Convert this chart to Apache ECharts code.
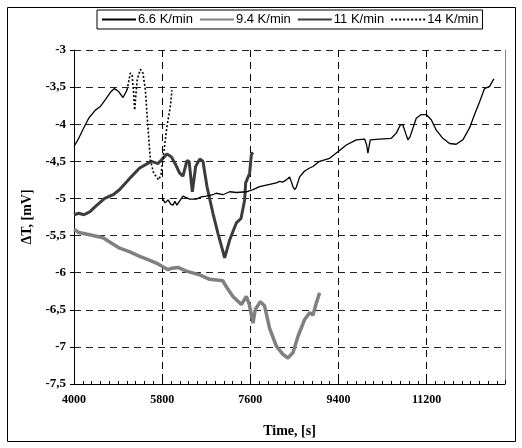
<!DOCTYPE html>
<html><head><meta charset="utf-8">
<script src="https://cdn.jsdelivr.net/npm/echarts@6/dist/echarts.min.js"></script>
<style>html,body{margin:0;padding:0;background:#fff}#c{width:522px;height:448px}</style>
</head><body><div id="c"></div>
<script>
// Series names
const seriesNames = ['6.6 K/min', '9.4 K/min', '11 K/min', '14 K/min'];
// Axis ticks
const yTicks = [-3, -3.5, -4, -4.5, -5, -5.5, -6, -6.5, -7, -7.5];
const xTicks = [4000, 5800, 7600, 9400, 11200];

// 6.6 K/min  [time s, dT mV]
const s66 = [[5804,-5.00],[5860,-5.06],[5920,-5.02],[5980,-5.08],[6021,-5.09],[6060,-5.04],[6100,-5.09],[6225,-4.97],[6360,-5.01],[6498,-5.01],[6600,-4.98],[6702,-4.97],[6837,-4.95],[6900,-4.93],[7041,-4.95],[7178,-4.91],[7320,-4.92],[7519,-4.91],[7654,-4.88],[7790,-4.84],[7927,-4.82],[8131,-4.79],[8198,-4.77],[8260,-4.78],[8335,-4.75],[8403,-4.71],[8440,-4.78],[8470,-4.84],[8505,-4.88],[8539,-4.85],[8607,-4.71],[8709,-4.63],[8811,-4.59],[8878,-4.57],[9015,-4.50],[9219,-4.46],[9389,-4.37],[9560,-4.28],[9764,-4.21],[9934,-4.20],[9975,-4.28],[10001,-4.39],[10025,-4.30],[10050,-4.21],[10240,-4.20],[10478,-4.19],[10580,-4.12],[10662,-4.01],[10716,-4.01],[10770,-4.12],[10817,-4.21],[10860,-4.17],[10988,-3.92],[11090,-3.87],[11192,-3.87],[11295,-3.94],[11397,-4.08],[11531,-4.19],[11668,-4.26],[11804,-4.27],[11940,-4.21],[12076,-4.05],[12178,-3.87],[12280,-3.70],[12382,-3.52],[12485,-3.49],[12573,-3.39]];

// 9.4 K/min
const s94 = [[4000,-5.42],[4100,-5.46],[4320,-5.49],[4592,-5.53],[4760,-5.60],[4933,-5.67],[5140,-5.72],[5341,-5.78],[5500,-5.82],[5682,-5.87],[5919,-5.96],[6000,-5.94],[6123,-5.93],[6294,-5.98],[6566,-6.03],[6770,-6.09],[7041,-6.11],[7110,-6.19],[7245,-6.32],[7417,-6.43],[7480,-6.36],[7519,-6.32],[7580,-6.43],[7654,-6.68],[7700,-6.50],[7804,-6.39],[7892,-6.45],[7994,-6.75],[8131,-6.99],[8266,-7.10],[8368,-7.15],[8470,-7.08],[8572,-6.86],[8709,-6.63],[8811,-6.54],[8880,-6.57],[8947,-6.41],[9015,-6.27]];

// 11 K/min
const s11 = [[4000,-5.22],[4100,-5.20],[4200,-5.22],[4320,-5.18],[4450,-5.10],[4627,-5.00],[4800,-4.95],[4933,-4.88],[5137,-4.73],[5341,-4.59],[5580,-4.50],[5716,-4.53],[5899,-4.40],[5988,-4.44],[6080,-4.55],[6157,-4.66],[6225,-4.70],[6306,-4.49],[6350,-4.50],[6416,-4.91],[6484,-4.57],[6566,-4.47],[6633,-4.50],[6715,-4.84],[6837,-5.20],[6939,-5.47],[7076,-5.80],[7178,-5.56],[7314,-5.33],[7410,-5.27],[7484,-5.02],[7505,-4.79],[7586,-4.66],[7621,-4.41],[7654,-4.38]];

// 14 K/min (early, densely sampled part)
const s14a = [[4000,-4.30],[4096,-4.19],[4198,-4.05],[4300,-3.92],[4437,-3.81],[4539,-3.76],[4641,-3.67],[4743,-3.57],[4825,-3.52],[4912,-3.56],[5000,-3.64],[5082,-3.54]];
// 14 K/min (later part)
const s14b = [[5082,-3.54],[5151,-3.31],[5185,-3.34],[5215,-3.55],[5239,-3.81],[5255,-3.67],[5290,-3.40],[5355,-3.26],[5408,-3.31],[5457,-3.54],[5504,-3.99],[5559,-4.48],[5627,-4.66],[5729,-4.75],[5776,-4.68],[5831,-4.39],[5898,-4.03],[5967,-3.76],[6000,-3.54]];

const serif = 'Liberation Serif';
const sans = 'Liberation Sans';
const chart = echarts.init(document.getElementById('c'), null, {renderer: 'canvas'});
chart.setOption({
  animation: false,
  backgroundColor: '#fff',
  graphic: [{type: 'rect', shape: {x: 7.5, y: 7.5, width: 508, height: 434}, style: {fill: 'none', stroke: '#000', lineWidth: 1}, silent: true}],
  legend: {
    data: seriesNames,
    left: 97, top: 10,
    padding: [3, 4, 3, 4],
    borderColor: '#000', borderWidth: 1,
    itemGap: 6, itemWidth: 34, itemHeight: 8,
    itemStyle: {opacity: 0},
    textStyle: {fontFamily: sans, fontSize: 13, color: '#000', padding: [0, 0, 0, -3]}
  },
  grid: {left: 74, right: 17, top: 50, bottom: 64, containLabel: false},
  xAxis: {
    type: 'value', min: 4000, max: 12800, interval: 1800,
    name: 'Time, [s]', nameLocation: 'middle', nameGap: 40,
    nameTextStyle: {fontFamily: serif, fontWeight: 'bold', fontSize: 14, color: '#000'},
    axisLine: {lineStyle: {color: '#000', width: 1}},
    axisTick: {show: true, inside: true, length: 4, lineStyle: {color: '#000'}},
    minorTick: {show: true, splitNumber: 10, length: 3, lineStyle: {color: '#000'}},
    axisLabel: {fontFamily: serif, fontWeight: 'bold', fontSize: 12, color: '#000', margin: 10, showMaxLabel: false,
      formatter: v => xTicks.includes(v) ? String(v) : ''},
    splitLine: {show: true, lineStyle: {color: '#000', type: [7, 5], width: 1}}
  },
  yAxis: [{
    type: 'value', min: -7.5, max: -3, interval: 0.5,
    name: 'ΔT, [mV]', nameLocation: 'middle', nameGap: 40,
    nameTextStyle: {fontFamily: serif, fontWeight: 'bold', fontSize: 14, color: '#000'},
    axisLine: {show: true, lineStyle: {color: '#000', width: 1}},
    axisTick: {show: true, inside: false, length: 4, lineStyle: {color: '#000'}},
    axisLabel: {fontFamily: serif, fontWeight: 'bold', fontSize: 13, color: '#000', margin: 8,
      formatter: v => yTicks.includes(v) ? String(v).replace('.', ',') : ''},
    splitLine: {show: true, lineStyle: {color: '#222', type: [7, 5], width: 1}}
  }, {
    type: 'value', min: -7.5, max: -3, interval: 0.5, position: 'right',
    axisLine: {show: true, lineStyle: {color: '#888', width: 1}},
    axisTick: {show: false}, axisLabel: {show: false}, splitLine: {show: false}
  }],
  series: [
    {name: seriesNames[0], type: 'line', data: s66, symbol: 'none', lineStyle: {color: '#000', width: 1.3}, itemStyle: {color: '#000'}, z: 5},
    {name: seriesNames[1], type: 'line', data: s94, symbol: 'none', lineStyle: {color: '#808080', width: 3.5}, itemStyle: {color: '#808080'}, z: 3},
    {name: seriesNames[2], type: 'line', data: s11, symbol: 'none', lineStyle: {color: '#3c3c3c', width: 3}, itemStyle: {color: '#3c3c3c'}, z: 4},
    {name: seriesNames[3], type: 'line', data: s14b, symbol: 'none', lineStyle: {color: '#000', width: 1.6, type: [2, 2]}, itemStyle: {color: '#000'}, z: 6},
    {name: seriesNames[3], type: 'line', data: s14a, symbol: 'none', lineStyle: {color: '#000', width: 1.3}, itemStyle: {color: '#000'}, z: 6}
  ]
});
</script></body></html>
